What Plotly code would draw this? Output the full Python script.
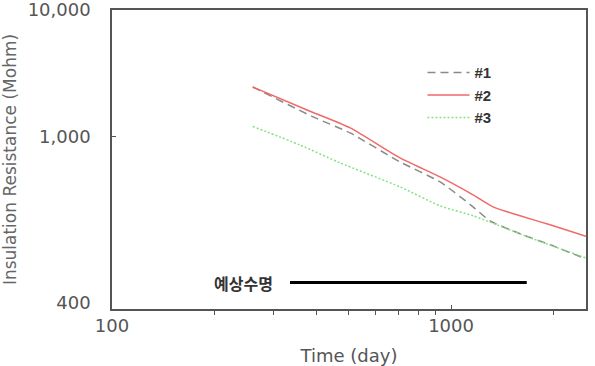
import plotly.graph_objects as go

# Data
days_1 = [260, 392, 504, 707, 928, 1161, 1303, 1598, 1959, 2500]
ir_1 = [2466, 1431, 1069, 631, 439, 279, 216, 171, 140, 108]

days_2 = [260, 376, 504, 707, 928, 1161, 1330, 1598, 1959, 2500]
ir_2 = [2466, 1624, 1171, 679, 481, 347, 279, 237, 201, 163]

days_3 = [260, 358, 471, 707, 928, 1161, 1367, 1710, 2500]
ir_3 = [1204, 860, 620, 401, 284, 237, 201, 159, 110]

life_days = [335, 1672]
life_level = [70.4, 70.4]
life_label = "예상수명"

x_tickvals = [100, 1000]
x_ticktext = ["100", "1000"]
x_minor = [200, 300, 400, 500, 600, 700, 800, 900, 2000]
y_tickvals = [49.1, 1000, 9990]
y_ticktext = ["400", "1,000", "10,000"]

fig = go.Figure()
fig.add_trace(go.Scatter(x=days_1, y=ir_1, mode="lines", name="#1",
                         line=dict(color="#8a8a8a", width=1.5, dash="8px,5px",
                                   shape="spline", smoothing=0.6)))
fig.add_trace(go.Scatter(x=days_2, y=ir_2, mode="lines", name="#2",
                         line=dict(color="#f06868", width=1.5,
                                   shape="spline", smoothing=0.6)))
fig.add_trace(go.Scatter(x=days_3, y=ir_3, mode="lines", name="#3",
                         line=dict(color="#86e086", width=1.5, dash="2px,2px",
                                   shape="spline", smoothing=0.6)))
fig.add_trace(go.Scatter(x=life_days, y=life_level, mode="lines", showlegend=False,
                         line=dict(color="black", width=3)))

fig.add_annotation(x=2.481, y=1.8476, xref="x", yref="y", text=life_label,
                   showarrow=False, xanchor="right", yanchor="middle",
                   font=dict(family="Noto Sans CJK KR", size=16, color="#333333",
                             weight="bold"),
                   )

axis_font = dict(family="DejaVu Sans", size=18, color="#555555")

fig.update_layout(
    width=595, height=366,
    margin=dict(l=112, r=9, t=10, b=57),
    paper_bgcolor="white", plot_bgcolor="white",
    showlegend=True,
    legend=dict(x=0.655, y=0.845, xanchor="left", yanchor="top",
                bgcolor="rgba(0,0,0,0)", tracegroupgap=0, itemwidth=42,
                font=dict(family="Liberation Sans", size=15, color="#333333",
                          weight="bold")),
    xaxis=dict(type="log", range=[2, 3.398], showgrid=False, zeroline=False,
               automargin=False, ticklabeloverflow="allow",
               showline=True, linecolor="#555555", linewidth=1.5, mirror=True,
               tickmode="array", tickvals=x_tickvals, ticktext=x_ticktext,
               ticks="inside", ticklen=4, tickcolor="#555555",
               minor=dict(tickmode="array", tickvals=x_minor, ticks="outside",
                          ticklen=4, tickcolor="#555555"),
               tickfont=axis_font,
               title=dict(text="Time (day)", font=axis_font, standoff=14)),
    yaxis=dict(type="log", range=[1.6385, 4], showgrid=False, zeroline=False,
               automargin=False, ticklabeloverflow="allow",
               showline=True, linecolor="#555555", linewidth=1.5, mirror=True,
               tickmode="array", tickvals=y_tickvals, ticktext=y_ticktext,
               ticks="", ticklabelstandoff=16,
               minor=dict(tickmode="array", tickvals=[1000], ticks="inside",
                          ticklen=4, tickcolor="#555555"),
               tickfont=axis_font,
               title=dict(text="Insulation Resistance (Mohm)",
                          font=dict(family="DejaVu Sans", size=17, color="#666666"),
                          standoff=14)),
)

fig.write_html("out.html")
